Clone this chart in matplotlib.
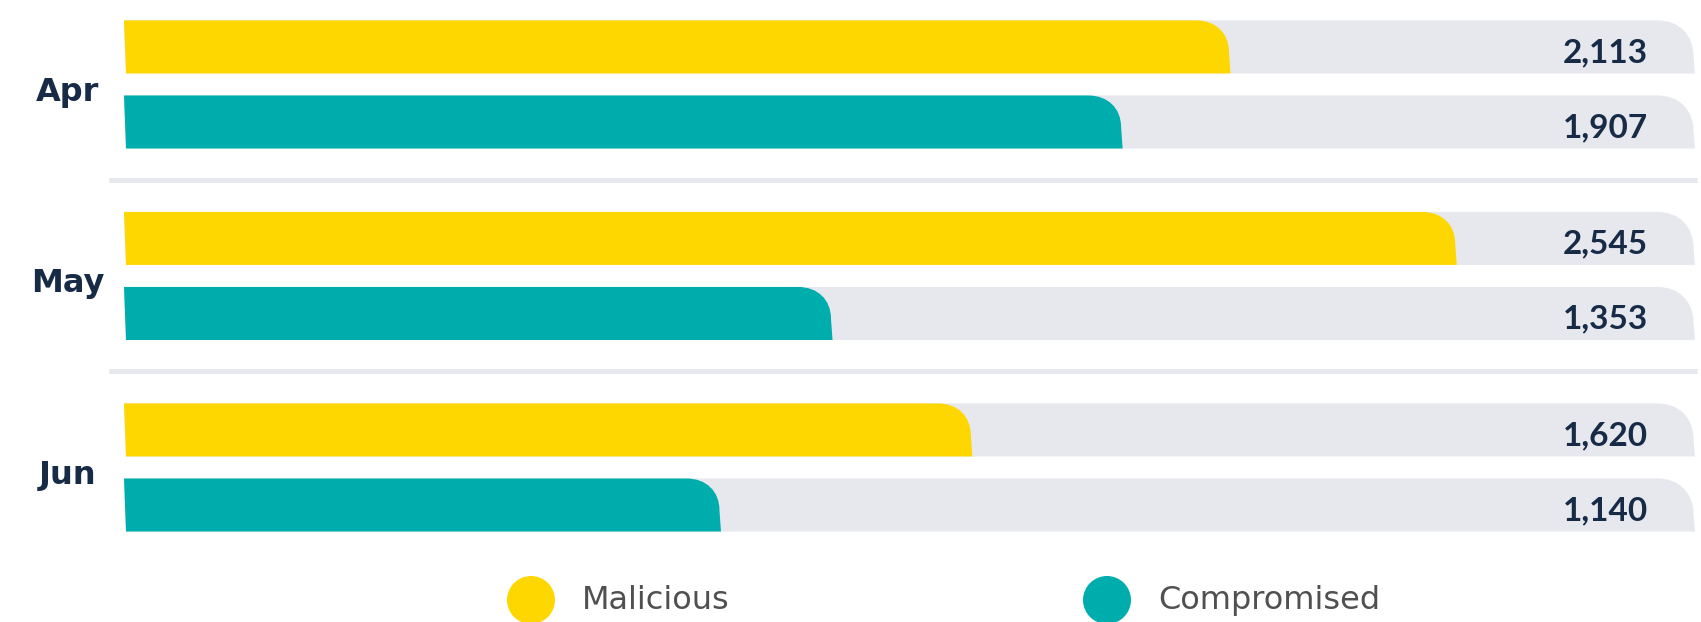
import matplotlib
matplotlib.use("Agg")
import matplotlib.pyplot as plt
from matplotlib.path import Path
from matplotlib.patches import PathPatch, Ellipse
import matplotlib.transforms as mtransforms

# data
months = ["Apr", "May", "Jun"]
malicious = [2113, 2545, 1620]
compromised = [1907, 1353, 1140]
series_names = ["Malicious", "Compromised"]
series_colors = ["#FFD700", "#00ADAD"]
total = 3000  # light grey track length

plt.rcParams["font.family"] = ["Lato", "DejaVu Sans"]
dark = "#172B47"
track = "#E6E8EE"

fig = plt.figure(figsize=(17.01, 6.22), dpi=100)
ax = fig.add_axes([124 / 1701, 0, 1571 / 1701, 1])
ax.set_xlim(0, total)
ax.set_ylim(2.807, -0.441)
ax.axis("off")

off = 0.196
h = 0.277
idx = list(range(len(months)))
y_mal = [i - off for i in idx]
y_com = [i + off for i in idx]

tracks = ax.barh(y_mal + y_com, [total] * 6, height=h, color=track)
bars_m = ax.barh(y_mal, malicious, height=h, color=series_colors[0])
bars_c = ax.barh(y_com, compromised, height=h, color=series_colors[1])

# pixel -> data scale
fig.canvas.draw()
px_x = total / (ax.bbox.width)
px_y = (2.807 + 0.441) / ax.bbox.height


def rounded(rect, rx, ry, color, z):
    # bar with a soft rounded top-right corner
    x0, y0 = rect.get_x(), rect.get_y()
    x1 = x0 + rect.get_width()
    y1 = y0 + rect.get_height()
    rx *= px_x
    ry *= px_y
    s = 1.5 * px_x
    k = 0.6
    xe = x1 - s
    verts = [(x0, y0), (xe - rx, y0),
             (xe - rx + k * rx, y0), (xe, y0 + ry - k * ry), (xe, y0 + ry),
             (x1, y1), (x0 + 2 * px_x, y1), (x0, y0)]
    codes = [Path.MOVETO, Path.LINETO, Path.CURVE4, Path.CURVE4, Path.CURVE4,
             Path.LINETO, Path.LINETO, Path.CLOSEPOLY]
    rect.set_visible(False)
    ax.add_patch(PathPatch(Path(verts, codes), facecolor=color,
                           edgecolor="none", zorder=z))


for r in tracks:
    rounded(r, 36, 36, track, 1)
for r in bars_m:
    rounded(r, 33, 32, series_colors[0], 2)
for r in bars_c:
    rounded(r, 33, 32, series_colors[1], 2)

trans = mtransforms.blended_transform_factory(ax.transAxes, ax.transData)

# separators
for i in idx[:-1]:
    ax.plot([-0.0095, 1.0013], [i + 0.497, i + 0.497], color=track, lw=3.6,
            transform=trans, clip_on=False, solid_capstyle="butt", zorder=0)

# month labels
for i, m in enumerate(months):
    ax.text(-0.0357, i + 0.085, m, transform=trans, ha="center",
            va="baseline", fontsize=23, fontweight="bold", color=dark,
            family="DejaVu Sans", clip_on=False)

# value labels
for y, v in zip(y_mal + y_com, malicious + compromised):
    ax.text(0.970, y + 0.078, f"{v:,}", transform=trans, ha="right",
            va="baseline", fontsize=24, fontweight="bold", color=dark,
            zorder=3)

# legend
lax = fig.add_axes([0, 0, 1, 1], zorder=-1)
lax.set_xlim(0, 1701)
lax.set_ylim(622, 0)
lax.axis("off")
for cx, name, col in zip([531, 1107], series_names, series_colors):
    lax.add_patch(Ellipse((cx, 600), 48, 48, facecolor=col, edgecolor="none"))
    lax.text(cx + 51, 609, name, ha="left", va="baseline", fontsize=23,
             color="#505050", family="DejaVu Sans")

fig.savefig("out.png", dpi=100)
